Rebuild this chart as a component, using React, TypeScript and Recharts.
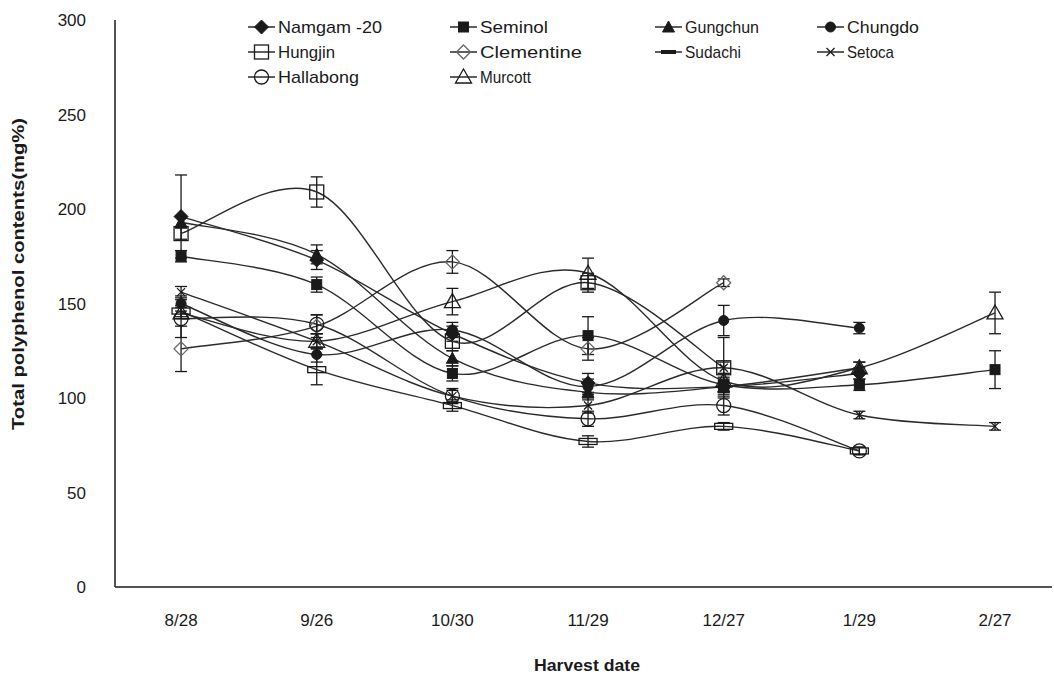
import React from 'react';
import { LineChart, Line, XAxis, YAxis, ErrorBar } from 'recharts';

// ---- data ----
const dates = ['8/28', '9/26', '10/30', '11/29', '12/27', '1/29', '2/27'];
const yTicks = [0, 50, 100, 150, 200, 250, 300];

const namgam = [196, 173, 134, 108, 106, 113, null];
const namgamErr = [22, 5, 4, 5, 4, 3, null];
const seminol = [175, 160, 113, 133, 107, 107, 115];
const seminolErr = [3, 4, 4, 10, 4, 3, 10];
const gungchun = [193, 176, 121, 103, 106, 116, null];
const gungchunErr = [3, 5, 4, 4, 3, 3, null];
const chungdo = [150, 123, 136, 106, 141, 137, null];
const chungdoErr = [4, 4, 4, 4, 8, 3, null];
const hungjin = [187, 209, 130, 161, 116, null, null];
const hungjinErr = [3, 8, 5, 5, 16, null, null];
const clementine = [126, 138, 172, 126, 161, null, null];
const clementineErr = [12, 6, 6, 6, 2, null, null];
const sudachi = [146, 115, 96, 77, 85, 72, null];
const sudachiErr = [3, 8, 3, 3, 2, 2, null];
const setoca = [156, 130, 101, 96, 116, 91, 85];
const setocaErr = [3, 4, 3, 4, 3, 2, 2];
const hallabong = [142, 139, 101, 89, 96, 72, null];
const hallabongErr = [10, 5, 4, 4, 5, 2, null];
const murcott = [145, 130, 151, 166, 109, 116, 145];
const murcottErr = [3, 4, 7, 8, 4, 3, 11];

const series = [
  { key: 'namgam', name: 'Namgam -20', values: namgam, errs: namgamErr, kind: 'diamondFilled' },
  { key: 'seminol', name: 'Seminol', values: seminol, errs: seminolErr, kind: 'squareFilled' },
  { key: 'gungchun', name: 'Gungchun', values: gungchun, errs: gungchunErr, kind: 'triangleFilled' },
  { key: 'chungdo', name: 'Chungdo', values: chungdo, errs: chungdoErr, kind: 'circleFilled' },
  { key: 'hungjin', name: 'Hungjin', values: hungjin, errs: hungjinErr, kind: 'squareOpen' },
  { key: 'clementine', name: 'Clementine', values: clementine, errs: clementineErr, kind: 'diamondOpen' },
  { key: 'sudachi', name: 'Sudachi', values: sudachi, errs: sudachiErr, kind: 'bar' },
  { key: 'setoca', name: 'Setoca', values: setoca, errs: setocaErr, kind: 'cross' },
  { key: 'hallabong', name: 'Hallabong', values: hallabong, errs: hallabongErr, kind: 'circleOpen' },
  { key: 'murcott', name: 'Murcott', values: murcott, errs: murcottErr, kind: 'triangleOpen' },
];

const rows = dates.map((d, i) => {
  const r: any = { x: i, date: d };
  series.forEach((s) => {
    r[s.key] = s.values[i];
    r[s.key + 'Err'] = s.errs[i];
  });
  return r;
});

// ---- smooth (Catmull-Rom like, Excel style) curve ----
const smoothCurve: any = (context: any) => {
  let pts: number[][] = [];
  return {
    areaStart() {},
    areaEnd() {},
    lineStart() {
      pts = [];
    },
    point(x: number, y: number) {
      pts.push([+x, +y]);
    },
    lineEnd() {
      const n = pts.length;
      if (!n) return;
      context.moveTo(pts[0][0], pts[0][1]);
      for (let i = 0; i < n - 1; i++) {
        const p0 = pts[i - 1] || pts[i];
        const p1 = pts[i];
        const p2 = pts[i + 1];
        const p3 = pts[i + 2] || p2;
        context.bezierCurveTo(
          p1[0] + (p2[0] - p0[0]) / 6,
          p1[1] + (p2[1] - p0[1]) / 6,
          p2[0] - (p3[0] - p1[0]) / 6,
          p2[1] - (p3[1] - p1[1]) / 6,
          p2[0],
          p2[1]
        );
      }
    },
  };
};

const INK = '#1a1a1a';

const Marker = ({ cx, cy, kind }: { cx: number; cy: number; kind: string }) => {
  if (cx == null || cy == null || isNaN(cx) || isNaN(cy)) return <g />;
  switch (kind) {
    case 'diamondFilled':
      return <path d={`M${cx},${cy - 7}L${cx + 7},${cy}L${cx},${cy + 7}L${cx - 7},${cy}Z`} fill={INK} stroke={INK} />;
    case 'squareFilled':
      return <rect x={cx - 5} y={cy - 5} width={10} height={10} fill={INK} stroke={INK} />;
    case 'triangleFilled':
      return <path d={`M${cx},${cy - 6}L${cx + 6},${cy + 5}L${cx - 6},${cy + 5}Z`} fill={INK} stroke={INK} />;
    case 'circleFilled':
      return <circle cx={cx} cy={cy} r={5} fill={INK} stroke={INK} />;
    case 'squareOpen':
      return <rect x={cx - 7} y={cy - 7} width={14} height={14} fill="none" stroke={INK} strokeWidth={1.3} />;
    case 'diamondOpen':
      return (
        <path d={`M${cx},${cy - 7}L${cx + 7},${cy}L${cx},${cy + 7}L${cx - 7},${cy}Z`} fill="none" stroke="#666" strokeWidth={1.3} />
      );
    case 'bar':
      return <rect x={cx - 9} y={cy - 3} width={18} height={6} fill="none" stroke={INK} strokeWidth={1.3} />;
    case 'cross':
      return <path d={`M${cx - 4},${cy - 4}L${cx + 4},${cy + 4}M${cx + 4},${cy - 4}L${cx - 4},${cy + 4}`} stroke={INK} strokeWidth={1.3} />;
    case 'circleOpen':
      return <circle cx={cx} cy={cy} r={7} fill="none" stroke={INK} strokeWidth={1.3} />;
    case 'triangleOpen':
      return <path d={`M${cx},${cy - 8}L${cx + 8},${cy + 6}L${cx - 8},${cy + 6}Z`} fill="none" stroke={INK} strokeWidth={1.3} />;
    default:
      return <g />;
  }
};

// legend layout (columns / rows)
const legendCols = [248, 450, 655, 817];
const legendRows = [27, 52, 77];
const legendTextLen: Record<string, number> = {
  namgam: 104,
  seminol: 68,
  gungchun: 74,
  chungdo: 72,
  hungjin: 57,
  clementine: 102,
  sudachi: 56,
  setoca: 47,
  hallabong: 81,
  murcott: 51,
};

const tickFont = "'Liberation Sans', Arial, sans-serif";

const LegendOverlay = () => (
  <svg width={1054} height={100} style={{ position: 'absolute', left: 0, top: 0, pointerEvents: 'none' }}>
    {series.map((s, i) => {
      const x = legendCols[i % 4];
      const y = legendRows[Math.floor(i / 4)];
      return (
        <g key={s.key}>
          <line x1={x} y1={y} x2={x + 27} y2={y} stroke={INK} strokeWidth={1.4} />
          {s.kind === 'bar' ? (
            <rect x={x + 6} y={y - 2} width={15} height={4} fill={INK} />
          ) : (
            <Marker cx={x + 13.5} cy={y} kind={s.kind} />
          )}
          <text
            x={x + 30}
            y={y + 6}
            fontFamily={tickFont}
            fontSize={17}
            fill={INK}
            textLength={legendTextLen[s.key]}
            lengthAdjust="spacingAndGlyphs"
          >
            {s.name}
          </text>
        </g>
      );
    })}
  </svg>
);

const XTick = (props: any) => {
  const { x, y, payload } = props;
  return (
    <text x={x} y={y + 9} textAnchor="middle" fontFamily={tickFont} fontSize={17} fill={INK}>
      {dates[payload.value]}
    </text>
  );
};

const YTick = (props: any) => {
  const { x, y, payload } = props;
  return (
    <text x={x} y={y + 6} textAnchor="end" fontFamily={tickFont} fontSize={17} fill={INK}>
      {payload.value}
    </text>
  );
};

export default function App() {
  return (
    <div style={{ position: 'absolute', left: 0, top: 0, width: 1054, height: 679, background: '#fff', fontFamily: tickFont }}>
      <LineChart width={1054} height={679} data={rows} margin={{ top: 20, right: 2, bottom: 52, left: 55 }}>
        <XAxis
          dataKey="x"
          type="number"
          domain={[-0.487, 6.42]}
          allowDataOverflow
          ticks={[0, 1, 2, 3, 4, 5, 6]}
          interval={0}
          height={40}
          tickLine={false}
          tickSize={0}
          tickMargin={30}
          axisLine={{ stroke: INK, strokeWidth: 1.5 }}
          tick={<XTick />}
          label={{
            content: () => (
              <text x={587} y={671} textAnchor="middle" fontFamily={tickFont} fontWeight="bold" fontSize={17} fill={INK} textLength={106} lengthAdjust="spacingAndGlyphs">
                Harvest date
              </text>
            ),
          }}
        />
        <YAxis
          type="number"
          domain={[0, 300]}
          ticks={yTicks}
          interval={0}
          width={60}
          tickLine={false}
          tickSize={0}
          tickMargin={29}
          axisLine={{ stroke: INK, strokeWidth: 1.5 }}
          tick={<YTick />}
          label={{
            content: () => (
              <text
                x={0}
                y={0}
                transform="translate(24,274) rotate(-90)"
                textAnchor="middle"
                fontFamily={tickFont}
                fontWeight="bold"
                fontSize={16}
                fill={INK}
                textLength={312}
                lengthAdjust="spacingAndGlyphs"
              >
                Total polyphenol contents(mg%)
              </text>
            ),
          }}
        />
        {series.map((s) => (
          <Line
            key={s.key}
            dataKey={s.key}
            name={s.name}
            type={smoothCurve}
            stroke="#2a2a2a"
            strokeWidth={1.4}
            isAnimationActive={false}
            dot={(p: any) => <Marker key={`${s.key}-${p.index}`} cx={p.cx} cy={p.cy} kind={s.kind} />}
            activeDot={false}
          >
            <ErrorBar dataKey={s.key + 'Err'} direction="y" width={6} stroke={INK} strokeWidth={1.3} isAnimationActive={false} />
          </Line>
        ))}
      </LineChart>
      <LegendOverlay />
    </div>
  );
}
